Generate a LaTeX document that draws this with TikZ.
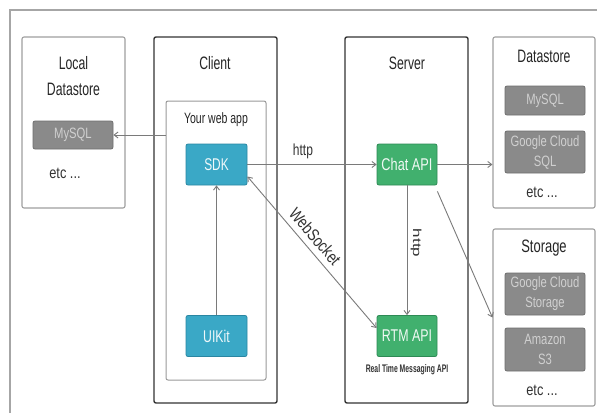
\documentclass[tikz,border=0pt]{standalone}
\usepackage{fontspec}
\usepackage{graphicx}
\setmainfont{Liberation Sans}
\usetikzlibrary{arrows.meta}
\definecolor{teal1}{HTML}{3AA8C6}
\definecolor{teal2}{HTML}{2A86A2}
\definecolor{green1}{HTML}{41B06E}
\definecolor{green2}{HTML}{2E8A55}
\definecolor{gray1}{HTML}{8A8A8A}
\definecolor{gray2}{HTML}{6E6E6E}
\definecolor{graytxt}{HTML}{D0D0D0}
\definecolor{linec}{HTML}{7A7A7A}
\newcommand{\sqz}[2]{\scalebox{#1}[1]{#2}}
\begin{document}
\begin{tikzpicture}[x=1pt,y=-1pt,
  frame/.style={draw=#1,line width=1.1pt,rounded corners=2pt},
  tealbox/.style={draw=teal2,fill=teal1,line width=0.8pt,rounded corners=2pt,minimum width=61pt,minimum height=41pt,text=white!92!teal1,font=\fontsize{17}{18}\selectfont},
  greenbox/.style={draw=green2,fill=green1,line width=0.8pt,rounded corners=2pt,minimum width=60pt,minimum height=41pt,text=white!92!green1,font=\fontsize{17}{18}\selectfont},
  graybox/.style={draw=gray2,fill=gray1,line width=0.8pt,rounded corners=2pt,minimum width=80pt,text=graytxt,font=\fontsize{15}{20}\selectfont,align=center,inner sep=1pt},
  title/.style={font=\fontsize{18}{26}\selectfont,text=black!85,align=center,inner sep=1pt},
  etcs/.style={font=\fontsize{16}{18}\selectfont,text=black!80,inner sep=1pt},
  conn/.style={draw=linec,line width=0.9pt,-{Straight Barb[length=4pt,width=6pt]}},
  lbl/.style={font=\fontsize{16}{18}\selectfont,text=black!80,inner sep=1pt}
]
\useasboundingbox (0,0) rectangle (597,413);
\fill[white] (0,0) rectangle (597,413);
% outer frame
\draw[draw=gray!70,line width=1.2pt] (10,413) -- (10,10) -- (597,10);

% Local Datastore
\node[frame=gray!75,minimum width=103pt,minimum height=171pt] (local) at (73.5,122.5) {};
\node[title] (localt) at (73.5,76) {\sqz{0.68}{Local}\\\sqz{0.68}{Datastore}};
\node[graybox,minimum height=28pt] (lmysql) at (73,135) {\sqz{0.75}{MySQL}};
\node[etcs] (letc) at (65,173) {\sqz{0.8}{etc ...}};

% Client
\node[frame=black!80,line width=1.4pt,minimum width=123pt,minimum height=366pt] (client) at (215.5,220) {};
\node[title] (clientt) at (215,63) {\sqz{0.68}{Client}};
\node[frame=gray!80,line width=1pt,minimum width=100pt,minimum height=279pt] (webapp) at (216,240.5) {};
\node[title,font=\fontsize{15}{17}\selectfont] (webappt) at (216,120) {\sqz{0.7}{Your web app}};
\node[tealbox] (sdk) at (216.5,164.5) {\sqz{0.7}{SDK}};
\node[tealbox] (uikit) at (216.5,336) {\sqz{0.72}{UIKit}};

% Server
\node[frame=black!80,line width=1.4pt,minimum width=123pt,minimum height=366pt] (server) at (406.5,220) {};
\node[title] (servert) at (407,63) {\sqz{0.68}{Server}};
\node[greenbox] (chat) at (407,164.5) {\sqz{0.75}{Chat API}};
\node[greenbox] (rtm) at (407,336) {\sqz{0.73}{RTM API}};
\node[font=\fontsize{11}{12}\selectfont\bfseries,text=black!80,inner sep=1pt] (rtmt) at (407,370) {\sqz{0.62}{Real Time Messaging API}};

% Datastore
\node[frame=gray!75,minimum width=102pt,minimum height=171pt] (ds) at (544,122.5) {};
\node[title] (dst) at (544,56) {\sqz{0.68}{Datastore}};
\node[graybox,minimum height=29pt] (dmysql) at (545,100.5) {\sqz{0.75}{MySQL}};
\node[graybox,minimum height=42pt] (dgcs) at (545,152) {\sqz{0.75}{Google Cloud}\\\sqz{0.75}{SQL}};
\node[etcs] (detc) at (542,192) {\sqz{0.8}{etc ...}};

% Storage
\node[frame=gray!75,minimum width=102pt,minimum height=177pt] (st) at (544,317.5) {};
\node[title] (stt) at (544,248) {\sqz{0.72}{Storage}};
\node[graybox,minimum height=42pt] (sgcs) at (545,294) {\sqz{0.75}{Google Cloud}\\\sqz{0.75}{Storage}};
\node[graybox,minimum height=43pt] (s3) at (545,349.5) {\sqz{0.75}{Amazon}\\\sqz{0.75}{S3}};
\node[etcs] (setc) at (542,390) {\sqz{0.8}{etc ...}};

% connectors
\draw[conn] (webapp.west |- lmysql.east) -- (lmysql.east);
\draw[conn] (uikit.north) -- (sdk.south);
\draw[conn] (sdk.east) -- node[lbl,above=4pt,pos=0.43] (httpl) {\sqz{0.75}{http}} (chat.west);
\draw[conn] (chat.south) -- (rtm.north);
\node[lbl,font=\fontsize{17}{18}\selectfont,rotate=-90] (http2) at (416,243) {\scalebox{1}[0.68]{http}};
\draw[conn] (chat.east) -- (chat.east -| ds.west);
\coordinate (ce) at ([yshift=-6pt]chat.south east);
\draw[conn] (ce) -- (st.west);
\coordinate (wsA) at ([yshift=-12pt]sdk.east);
\coordinate (wsB) at ([yshift=8pt]rtm.west);
\draw[conn,{Straight Barb[length=4pt,width=6pt]}-{Straight Barb[length=4pt,width=6pt]}] (wsA) -- node[lbl,font=\fontsize{17}{18}\selectfont,sloped,above=5pt,pos=0.45] (wsl) {\sqz{0.8}{WebSocket}} (wsB);
\end{tikzpicture}
\end{document}
